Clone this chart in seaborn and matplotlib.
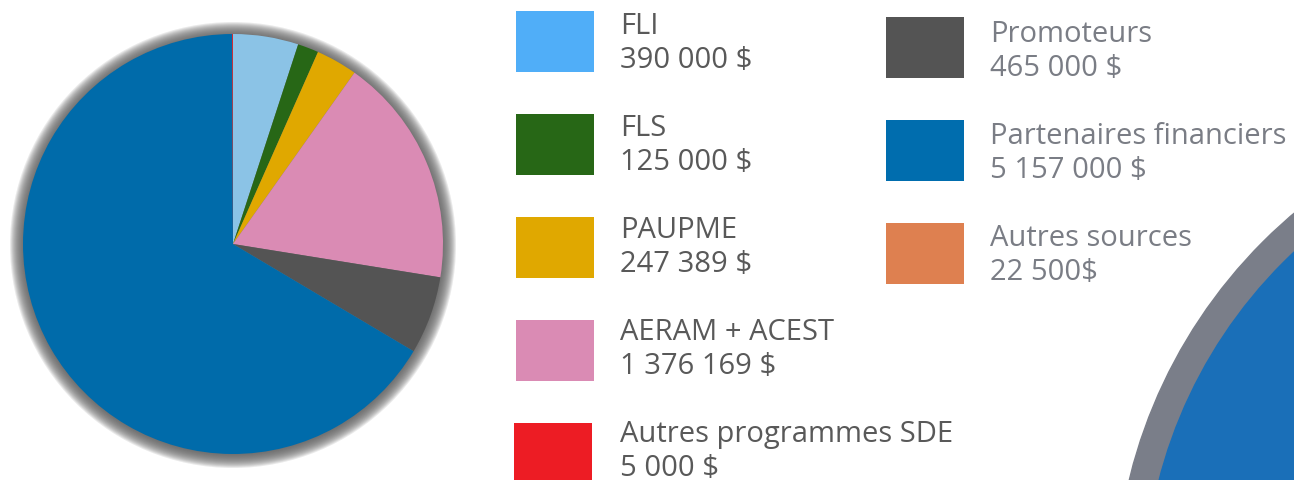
import matplotlib.pyplot as plt
import seaborn as sns
from matplotlib.patches import Circle, Rectangle

# donnees du graphique
labels = ["FLI", "FLS", "PAUPME", "AERAM + ACEST", "Autres programmes SDE",
          "Promoteurs", "Partenaires financiers", "Autres sources"]
amount_text = ["390 000 $", "125 000 $", "247 389 $", "1 376 169 $", "5 000 $",
               "465 000 $", "5 157 000 $", "22 500$"]
legend_colors = ["#50AEF8", "#276716", "#E0A800", "#DA8BB4", "#ED1C24",
                 "#545454", "#006DAE", "#DE8050"]

# tranches du camembert (sens horaire depuis le haut)
pie_labels = ["FLI", "FLS", "PAUPME", "AERAM + ACEST", "Promoteurs",
              "Partenaires financiers", "Autres programmes SDE"]
pie_values = [390000, 125000, 247389, 1376169, 465000, 5157000, 5000]
pie_colors = ["#8BC3E6", "#276716", "#E0A800", "#DA8BB4", "#545454",
              "#006BAA", "#ED1C24"]

sns.set_theme(style="white")
plt.rcParams['font.family'] = ['Open Sans', 'DejaVu Sans']

W, H = 1294, 481
fig = plt.figure(figsize=(W / 100, H / 100), dpi=100)
ax = fig.add_axes([0, 0, 1, 1])

# gros cercle decoratif en bas a droite
ax.add_patch(Circle((1620, H - 600), 505, color="#7A7E89", zorder=0))
ax.add_patch(Circle((1620, H - 600), 476, color="#1A6FB8", zorder=0))

# ombre floue autour du camembert
cx, cy, r = 233, H - 245, 210
for k in range(14):
    ax.add_patch(Circle((cx, cy - 1), r + 13 - k, color="#5E5E5E",
                        alpha=0.13, lw=0, zorder=1))

ax.pie(pie_values, colors=pie_colors, startangle=90, counterclock=False,
       center=(cx, cy), radius=r, frame=True,
       wedgeprops={"linewidth": 0, "zorder": 2})

# legende
col_x = [516, 886]
text_x = [620, 990]
box_w, box_h = 78, 61
rows = [(0, 0), (0, 1), (0, 2), (0, 3), (0, 4), (1, 0), (1, 1), (1, 2)]
txt_colors = ["#595959", "#7A7D85"]
for i, (lab, amt) in enumerate(zip(labels, amount_text)):
    c, row = rows[i]
    top = (12 if c == 0 else 18) + 103 * row
    x0 = col_x[c] - (2 if i == 4 else 0)
    ax.add_patch(Rectangle((x0, H - top - box_h), box_w, box_h,
                           color=legend_colors[i], lw=0, zorder=3))
    base1 = (34 if c == 0 else 42) + 102 * row
    ax.text(text_x[c], H - base1, lab, fontsize=21, color=txt_colors[c],
            va="baseline", ha="left")
    ax.text(text_x[c], H - base1 - 34, amt, fontsize=21, color=txt_colors[c],
            va="baseline", ha="left")

ax.set_xlim(0, W)
ax.set_ylim(0, H)
ax.set_aspect("equal")
ax.axis("off")

fig.savefig("out.png", dpi=100)
